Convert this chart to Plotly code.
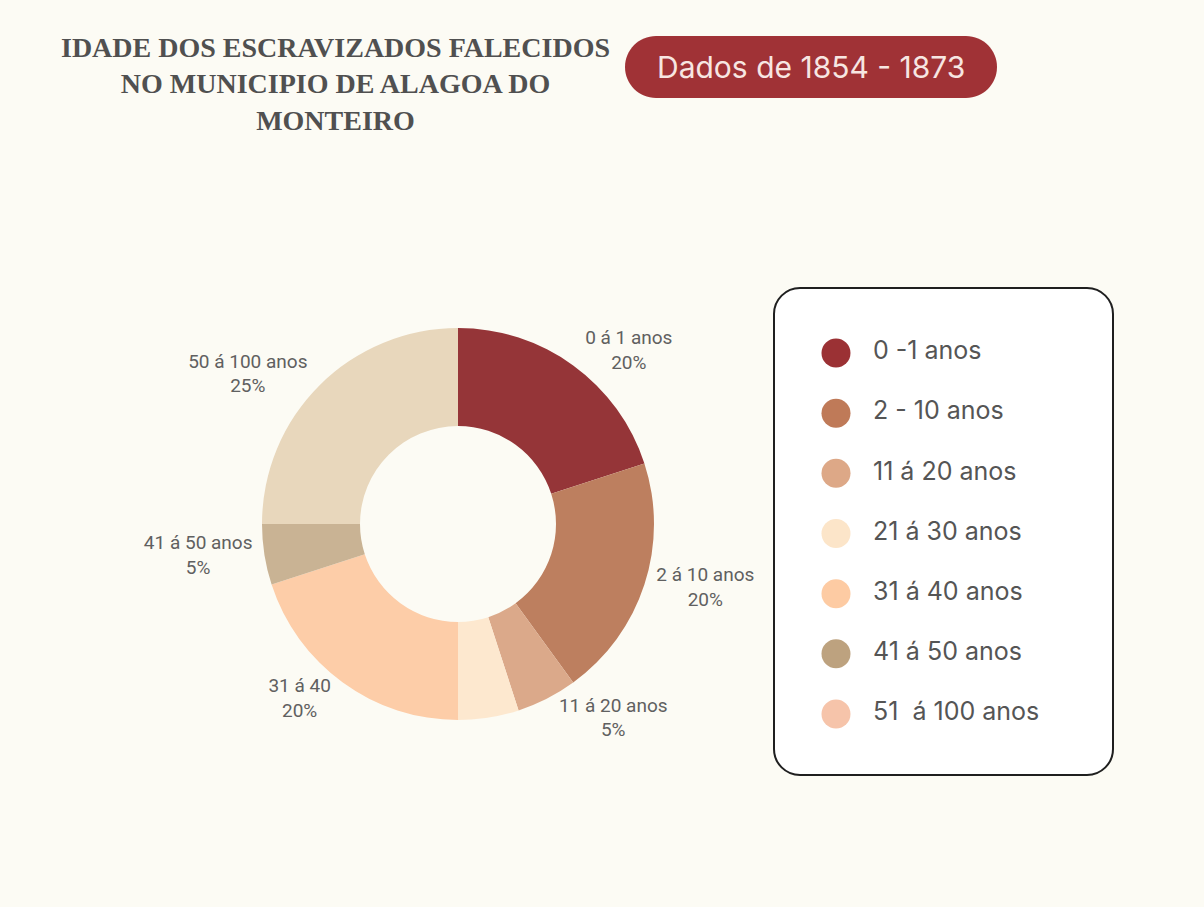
import plotly.graph_objects as go

W, H = 1204, 907

# ---- data ----
slice_labels = ["0 á 1 anos", "2 á 10 anos", "11 á 20 anos", "", "31 á 40", "41 á 50 anos", "50 á 100 anos"]
slice_values = [20, 20, 5, 5, 20, 5, 25]
slice_colors = ["#953538", "#BD7F5F", "#DBA98A", "#FDE8CF", "#FDCDA8", "#C9B394", "#E8D7BC"]

legend_labels = ["0 -1 anos", "2 - 10 anos", "11 á 20 anos", "21 á 30 anos",
                 "31 á 40 anos", "41 á 50 anos", "51  á 100 anos"]
legend_colors = ["#9B3134", "#BF7A58", "#DDA887", "#FCE5C9", "#FDCBA3", "#BDA27F", "#F6C4AA"]

title_text = "IDADE DOS ESCRAVIZADOS FALECIDOS<br>NO MUNICIPIO DE ALAGOA DO<br>MONTEIRO"
badge_text = "Dados de 1854 - 1873"

total = sum(slice_values)
pie_text = [f"{l}<br>{v / total * 100:.0f}%" if l else "" for l, v in zip(slice_labels, slice_values)]


def px(x):
    return x / W


def py(y):
    return 1 - y / H


def rounded_rect(x0, y0, x1, y1, r):
    k = 0.5523 * r
    pts = [
        f"M {px(x0 + r)},{py(y0)}",
        f"L {px(x1 - r)},{py(y0)}",
        f"C {px(x1 - r + k)},{py(y0)} {px(x1)},{py(y0 + r - k)} {px(x1)},{py(y0 + r)}",
        f"L {px(x1)},{py(y1 - r)}",
        f"C {px(x1)},{py(y1 - r + k)} {px(x1 - r + k)},{py(y1)} {px(x1 - r)},{py(y1)}",
        f"L {px(x0 + r)},{py(y1)}",
        f"C {px(x0 + r - k)},{py(y1)} {px(x0)},{py(y1 - r + k)} {px(x0)},{py(y1 - r)}",
        f"L {px(x0)},{py(y0 + r)}",
        f"C {px(x0)},{py(y0 + r - k)} {px(x0 + r - k)},{py(y0)} {px(x0 + r)},{py(y0)}",
        "Z",
    ]
    return " ".join(pts)


fig = go.Figure()

# donut
cx, cy, R = 458, 524, 196
fig.add_trace(go.Pie(
    values=slice_values,
    labels=legend_labels,
    text=pie_text,
    textinfo="text",
    textposition="outside",
    hole=0.5,
    sort=False,
    direction="clockwise",
    rotation=0,
    marker=dict(colors=slice_colors, line=dict(width=0)),
    textfont=dict(family="Roboto", size=19, color="#606060"),
    domain=dict(x=[px(cx - R), px(cx + R)], y=[py(cy + R), py(cy - R)]),
    showlegend=False,
    hoverinfo="label+percent",
))

# custom legend
idx = list(range(len(legend_labels)))
fig.add_trace(go.Scatter(
    x=[0] * len(idx), y=idx, mode="markers",
    marker=dict(size=29, color=legend_colors, line=dict(width=0)),
    xaxis="x", yaxis="y", showlegend=False, hoverinfo="skip", cliponaxis=False,
))
fig.add_trace(go.Scatter(
    x=[37] * len(idx), y=idx, mode="text", text=legend_labels,
    textposition="middle right",
    textfont=dict(family="Inter", size=25, color="#555555"),
    xaxis="x", yaxis="y", showlegend=False, hoverinfo="skip", cliponaxis=False,
))

fig.update_layout(
    width=W, height=H,
    margin=dict(l=0, r=0, t=0, b=0),
    paper_bgcolor="#FCFBF4",
    plot_bgcolor="rgba(0,0,0,0)",
    xaxis=dict(domain=[px(836), px(1113)], range=[0, 277], visible=False, fixedrange=True),
    yaxis=dict(domain=[py(744), py(323)], range=[6.5, -0.5], visible=False, fixedrange=True),
    shapes=[
        dict(type="path", xref="paper", yref="paper", path=rounded_rect(774, 288, 1113, 775, 26),
             fillcolor="#FFFFFF", line=dict(color="#1f1f1f", width=2), layer="below"),
        dict(type="path", xref="paper", yref="paper", path=rounded_rect(625, 36, 997, 98, 31),
             fillcolor="#A03236", line=dict(width=0), layer="below"),
    ],
    annotations=[
        dict(text=f"<b>{title_text}</b>", x=px(335), y=py(84), xref="paper", yref="paper",
             xanchor="center", yanchor="middle", showarrow=False, align="center",
             font=dict(family="Liberation Serif", size=28, color="#505050")),
        dict(text=badge_text, x=px(811), y=py(67), xref="paper", yref="paper",
             xanchor="center", yanchor="middle", showarrow=False,
             font=dict(family="Inter", size=30, color="#F7E6E2")),
    ],
)

fig.write_html("out.html")
